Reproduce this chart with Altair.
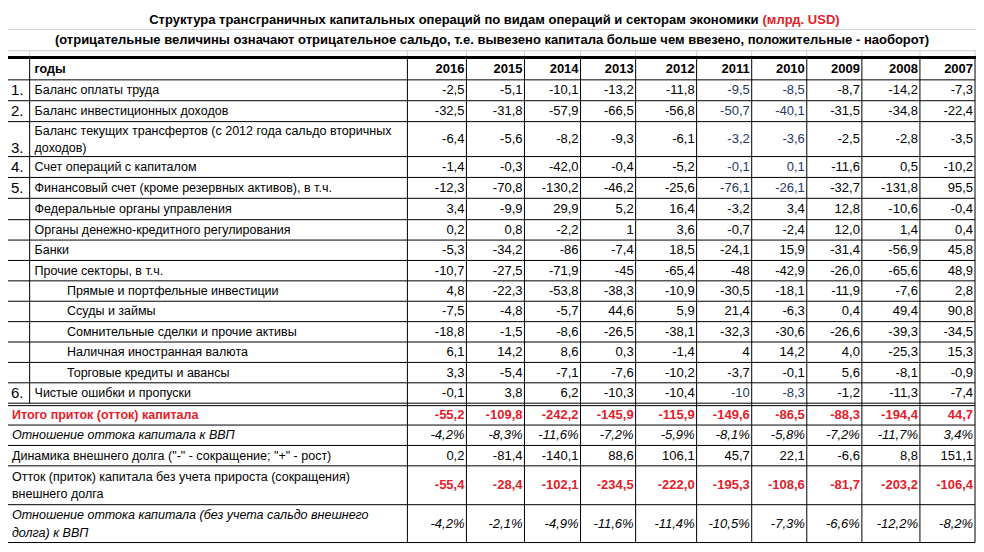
import altair as alt
import pandas as pd

# ---------------- data ----------------
title_main = "Структура трансграничных капитальных операций по видам операций и секторам экономики"
title_unit = "(млрд. USD)"
subtitle = ("(отрицательные величины означают отрицательное сальдо, т.е. вывезено капитала "
            "больше чем ввезено, положительные - наоборот)")
header_label = "годы"
years = [2016, 2015, 2014, 2013, 2012, 2011, 2010, 2009, 2008, 2007]

row_labels = [
    "Баланс оплаты труда",
    "Баланс инвестиционных доходов",
    "Баланс текущих трансфертов (с 2012 года сальдо вторичных\nдоходов)",
    "Счет операций с капиталом",
    "Финансовый счет (кроме резервных активов), в т.ч.",
    "Федеральные органы управления",
    "Органы денежно-кредитного регулирования",
    "Банки",
    "Прочие секторы, в т.ч.",
    "Прямые и портфельные инвестиции",
    "Ссуды и займы",
    "Сомнительные сделки и прочие активы",
    "Наличная иностранная валюта",
    "Торговые кредиты и авансы",
    "Чистые ошибки и пропуски",
    "Итого приток (отток) капитала",
    "Отношение оттока капитала к ВВП",
    "Динамика внешнего долга (\"-\" - сокращение; \"+\" - рост)",
    "Отток (приток) капитала без учета прироста (сокращения)\nвнешнего долга",
    "Отношение оттока капитала (без учета сальдо внешнего\nдолга) к ВВП",
]
row_numbers = ["1.", "2.", "3.", "4.", "5.", "", "", "", "", "", "", "", "", "", "6.",
               "", "", "", "", ""]
# row kinds: main / sub / total / pct / plain / redvals
row_kinds = ["main", "main", "main", "main", "main", "main", "main", "main", "main",
             "sub", "sub", "sub", "sub", "sub", "main",
             "total", "pct", "plain", "redvals", "pct"]

labour = [-2.5, -5.1, -10.1, -13.2, -11.8, -9.5, -8.5, -8.7, -14.2, -7.3]
invest_income = [-32.5, -31.8, -57.9, -66.5, -56.8, -50.7, -40.1, -31.5, -34.8, -22.4]
transfers = [-6.4, -5.6, -8.2, -9.3, -6.1, -3.2, -3.6, -2.5, -2.8, -3.5]
capital_acc = [-1.4, -0.3, -42.0, -0.4, -5.2, -0.1, 0.1, -11.6, 0.5, -10.2]
financial = [-12.3, -70.8, -130.2, -46.2, -25.6, -76.1, -26.1, -32.7, -131.8, 95.5]
federal = [3.4, -9.9, 29.9, 5.2, 16.4, -3.2, 3.4, 12.8, -10.6, -0.4]
monetary = [0.2, 0.8, -2.2, 1, 3.6, -0.7, -2.4, 12.0, 1.4, 0.4]
banks = [-5.3, -34.2, -86, -7.4, 18.5, -24.1, 15.9, -31.4, -56.9, 45.8]
other_sectors = [-10.7, -27.5, -71.9, -45, -65.4, -48, -42.9, -26.0, -65.6, 48.9]
direct_portfolio = [4.8, -22.3, -53.8, -38.3, -10.9, -30.5, -18.1, -11.9, -7.6, 2.8]
loans = [-7.5, -4.8, -5.7, 44.6, 5.9, 21.4, -6.3, 0.4, 49.4, 90.8]
dubious = [-18.8, -1.5, -8.6, -26.5, -38.1, -32.3, -30.6, -26.6, -39.3, -34.5]
cash_fx = [6.1, 14.2, 8.6, 0.3, -1.4, 4, 14.2, 4.0, -25.3, 15.3]
trade_credit = [3.3, -5.4, -7.1, -7.6, -10.2, -3.7, -0.1, 5.6, -8.1, -0.9]
errors = [-0.1, 3.8, 6.2, -10.3, -10.4, -10, -8.3, -1.2, -11.3, -7.4]
total_flow = [-55.2, -109.8, -242.2, -145.9, -115.9, -149.6, -86.5, -88.3, -194.4, 44.7]
ratio_gdp = [-4.2, -8.3, -11.6, -7.2, -5.9, -8.1, -5.8, -7.2, -11.7, 3.4]
debt_change = [0.2, -81.4, -140.1, 88.6, 106.1, 45.7, 22.1, -6.6, 8.8, 151.1]
flow_ex_debt = [-55.4, -28.4, -102.1, -234.5, -222.0, -195.3, -108.6, -81.7, -203.2, -106.4]
ratio_ex_debt = [-4.2, -2.1, -4.9, -11.6, -11.4, -10.5, -7.3, -6.6, -12.2, -8.2]

row_values = [labour, invest_income, transfers, capital_acc, financial, federal, monetary,
              banks, other_sectors, direct_portfolio, loans, dubious, cash_fx, trade_credit,
              errors, total_flow, ratio_gdp, debt_change, flow_ex_debt, ratio_ex_debt]
blue_rows = [0, 1, 2, 3, 4, 14]
blue_years = [2011, 2010]

# ---------------- layout / styles ----------------
BLACK = "#000000"
RED = "#e3202a"
BLUE = "#1f3864"
GRID = "#d0d0d0"
SANS = "Liberation Sans, Arial, sans-serif"

col_edges = [0, 22, 406, 466, 525, 582, 638, 700, 756, 812, 868, 927, 983]
table_top = 51
header_h = 23
row_heights = [21.5, 21.5, 36, 21.5, 21.5, 22, 21, 21, 21, 21, 21, 21, 21, 21, 21,
               20, 21, 21, 40, 39]
double_gap = 2.5
line_h = 17.5


def fmt(v, pct=False):
    s = str(v) if isinstance(v, int) else f"{v:.1f}".replace(".", ",")
    return s + ("%" if pct else "")


# row boundaries
bounds = []
y = table_top + header_h
for i, h in enumerate(row_heights):
    if i == 15:
        y += double_gap
    bounds.append((y, y + h))
    y += h
table_bottom = y

texts = []  # x, y, text, color, style


def add(x, yy, text, color, style):
    texts.append({"x": x, "y": yy, "text": text, "color": color, "style": style})


# header
header_mid = table_top + header_h / 2
add(27, header_mid, header_label, BLACK, "head_label")
for j, yr in enumerate(years):
    add(col_edges[j + 3] - 2, header_mid, str(yr), BLACK, "head_year")

for i, (lab, num, kind, vals) in enumerate(zip(row_labels, row_numbers, row_kinds, row_values)):
    top, bot = bounds[i]
    mid = (top + bot) / 2
    nlines = lab.count("\n") + 1
    first = mid - (nlines - 1) * line_h / 2
    if num:
        add(3, mid + (nlines - 1) * line_h / 2, num, BLACK, "num")
    if kind == "main":
        add(27, first, lab, BLACK, "label")
    elif kind == "sub":
        add(60, first, lab, BLACK, "label")
    elif kind == "total":
        add(4, first, lab, RED, "label_bold")
    elif kind == "pct":
        add(4, first, lab, BLACK, "label_italic")
    else:
        add(4, first, lab, BLACK, "label")
    for j, v in enumerate(vals):
        xr = col_edges[j + 3] - 2
        if kind in ("total", "redvals"):
            add(xr, mid, fmt(v), RED, "val_bold")
        elif kind == "pct":
            add(xr, mid, fmt(v, pct=True), BLACK, "val_italic")
        else:
            c = BLUE if (i in blue_rows and years[j] in blue_years) else BLACK
            add(xr, mid, fmt(v), c, "val")

# titles
add(763, 12, title_main, BLACK, "title_l")
add(767, 12, title_unit, RED, "title_r")
add(492, 33, subtitle, BLACK, "subtitle")

tdf = pd.DataFrame(texts)

# lines
lines = []


def hline(x1, x2, yy, color=BLACK, sw=1.0):
    lines.append({"x": x1, "x2": x2, "y": yy, "y2": yy, "color": color, "sw": sw})


def vline(xx, y1, y2, color=BLACK, sw=1.0):
    lines.append({"x": xx, "x2": xx, "y": y1, "y2": y2, "color": color, "sw": sw})


hline(0, 984, 22, GRID)
hline(0, 984, 44, GRID)
for xe in col_edges[1:]:
    vline(xe, 44, table_top, GRID)
hline(0, 984, table_top, BLACK, 3)
hline(0, 983, table_top + header_h)
for i, (top, bot) in enumerate(bounds):
    hline(0, 983, bot)
    if i == 15:
        hline(0, 983, top)
for xe in col_edges[2:]:
    vline(xe, table_top, table_bottom)
vline(col_edges[1], table_top, bounds[14][1])

ldf = pd.DataFrame(lines)

xs = alt.Scale(domain=[0, 984], nice=False, zero=False)
ys = alt.Scale(domain=[0, 552], nice=False, zero=False, reverse=True)

rules = alt.Chart(ldf).mark_rule(strokeCap="butt").encode(
    x=alt.X("x:Q", scale=xs, axis=None),
    x2="x2:Q",
    y=alt.Y("y:Q", scale=ys, axis=None),
    y2="y2:Q",
    color=alt.Color("color:N", scale=None),
    strokeWidth=alt.StrokeWidth("sw:Q", scale=None),
)

styles = {
    "head_label": dict(font=SANS, fontSize=12.5, fontWeight="bold", align="left"),
    "head_year": dict(font=SANS, fontSize=13, fontWeight="bold", align="right"),
    "num": dict(font=SANS, fontSize=15, align="left"),
    "label": dict(font=SANS, fontSize=12.5, align="left"),
    "label_bold": dict(font=SANS, fontSize=12.5, fontWeight="bold", align="left"),
    "label_italic": dict(font=SANS, fontSize=12.5, fontStyle="italic", align="left"),
    "val": dict(font=SANS, fontSize=13, align="right"),
    "val_bold": dict(font=SANS, fontSize=13, fontWeight="bold", align="right"),
    "val_italic": dict(font=SANS, fontSize=13, fontStyle="italic", align="right"),
    "title_l": dict(font=SANS, fontSize=13, fontWeight="bold", align="right"),
    "title_r": dict(font=SANS, fontSize=13, fontWeight="bold", align="left"),
    "subtitle": dict(font=SANS, fontSize=13, fontWeight="bold", align="center"),
}

layers = [rules]
for key, st in styles.items():
    layers.append(
        alt.Chart(tdf[tdf["style"] == key]).mark_text(
            baseline="middle", lineBreak="\n", lineHeight=line_h, **st
        ).encode(
            x=alt.X("x:Q", scale=xs, axis=None),
            y=alt.Y("y:Q", scale=ys, axis=None),
            text="text:N",
            color=alt.Color("color:N", scale=None),
        )
    )

chart = alt.layer(*layers).properties(
    width=968, height=536, padding=0, autosize="none", background="white"
).configure_view(stroke=None)

chart.save("out.html", embed_options={"renderer": "svg", "actions": False})
